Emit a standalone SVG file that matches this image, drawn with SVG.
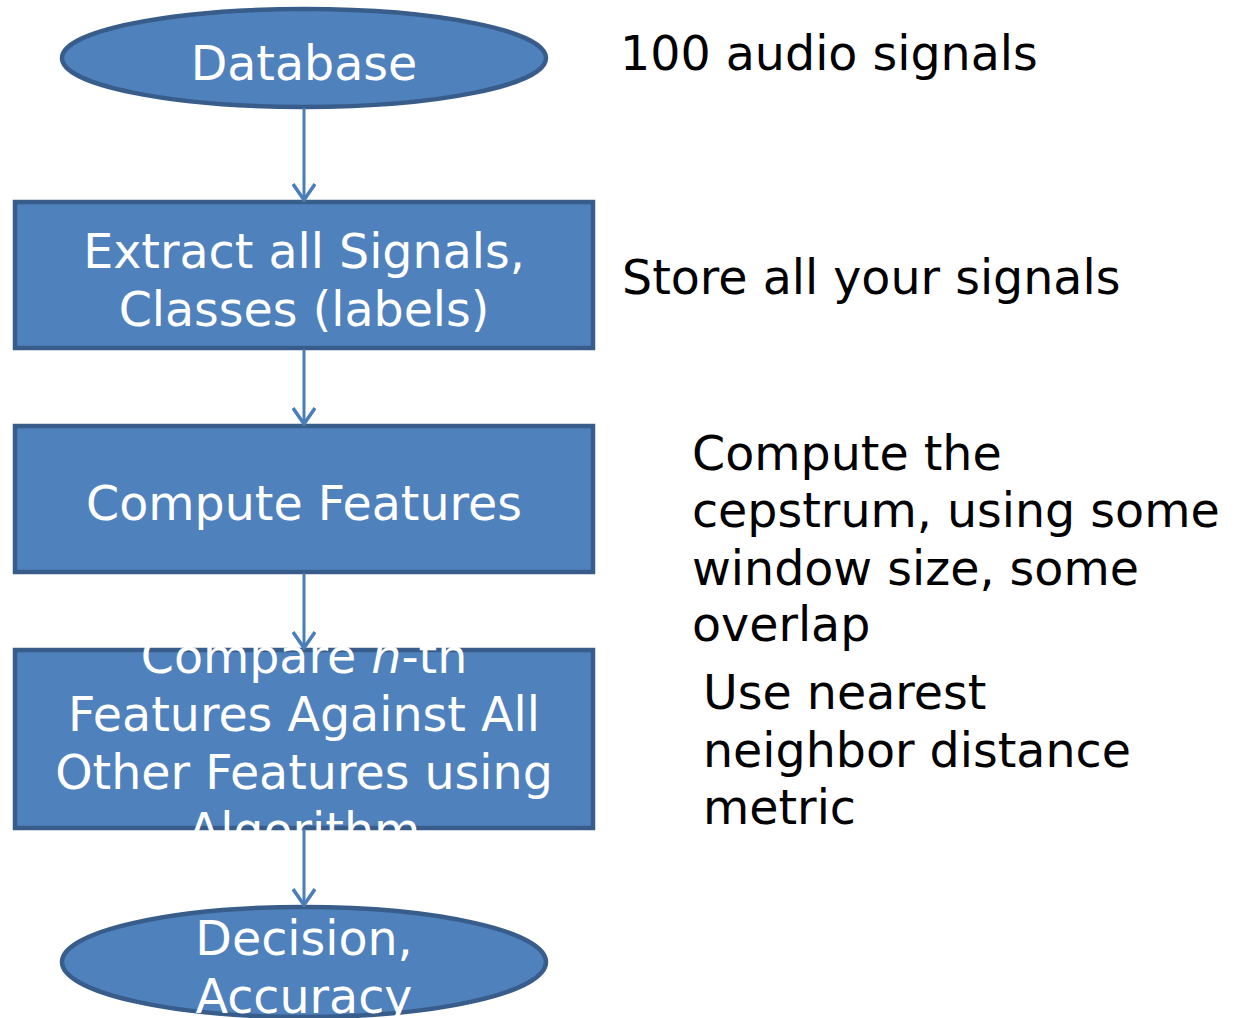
<svg xmlns="http://www.w3.org/2000/svg" width="1239" height="1018" viewBox="0 0 1239 1018">
<defs>
<style>
.shape{fill:#4F81BD;stroke:#385D8A;stroke-width:4.5}
.nt{font-family:"DejaVu Sans",sans-serif;font-size:47.5px;fill:#FFFFFF;text-anchor:middle}
.note{font-family:"DejaVu Sans",sans-serif;font-size:47.5px;fill:#000000}
.conn{stroke:#4A7EBB;stroke-width:3;fill:none}
</style>
<marker id="arr" viewBox="0 0 20 24" refX="18" refY="12" markerWidth="20" markerHeight="24" markerUnits="userSpaceOnUse" orient="auto">
<path d="M2,1 L18,12 L2,23" fill="none" stroke="#4A7EBB" stroke-width="3.5"/>
</marker>
</defs>
<rect width="1239" height="1018" fill="#FFFFFF"/>
<g id="database">
<ellipse class="shape" cx="304" cy="58" rx="242" ry="49"/>
<text class="nt" x="304" y="80">Database</text>
</g>
<g id="extract">
<rect class="shape" x="15" y="202" width="578" height="146"/>
<text class="nt" x="304" y="268">Extract all Signals,</text>
<text class="nt" x="304" y="326">Classes (labels)</text>
</g>
<g id="compute">
<rect class="shape" x="15" y="426" width="578" height="146"/>
<text class="nt" x="304" y="520">Compute Features</text>
</g>
<g id="compare">
<rect class="shape" x="15" y="650" width="578" height="178"/>
<text class="nt" x="304" y="673">Compare <tspan font-style="italic">n</tspan>-th</text>
<text class="nt" x="304" y="731">Features Against All</text>
<text class="nt" x="304" y="789">Other Features using</text>
<text class="nt" x="304" y="847">Algorithm</text>
</g>
<g id="decision">
<ellipse class="shape" cx="304" cy="962" rx="242" ry="55"/>
<text class="nt" x="304" y="955">Decision,</text>
<text class="nt" x="304" y="1013">Accuracy</text>
</g>
<g id="connectors">
<line class="conn" x1="304" y1="108" x2="304" y2="200" marker-end="url(#arr)"/>
<line class="conn" x1="304" y1="349" x2="304" y2="424" marker-end="url(#arr)"/>
<line class="conn" x1="304" y1="573" x2="304" y2="648" marker-end="url(#arr)"/>
<line class="conn" x1="304" y1="829" x2="304" y2="905" marker-end="url(#arr)"/>
</g>
<g id="notes">
<text class="note" x="620" y="70">100 audio signals</text>
<text class="note" x="622" y="294">Store all your signals</text>
<text class="note" x="692" y="470">Compute the</text>
<text class="note" x="692" y="527">cepstrum, using some</text>
<text class="note" x="692" y="585">window size, some</text>
<text class="note" x="692" y="641">overlap</text>
<text class="note" x="703" y="709">Use nearest</text>
<text class="note" x="703" y="767">neighbor distance</text>
<text class="note" x="703" y="824">metric</text>
</g>
</svg>
